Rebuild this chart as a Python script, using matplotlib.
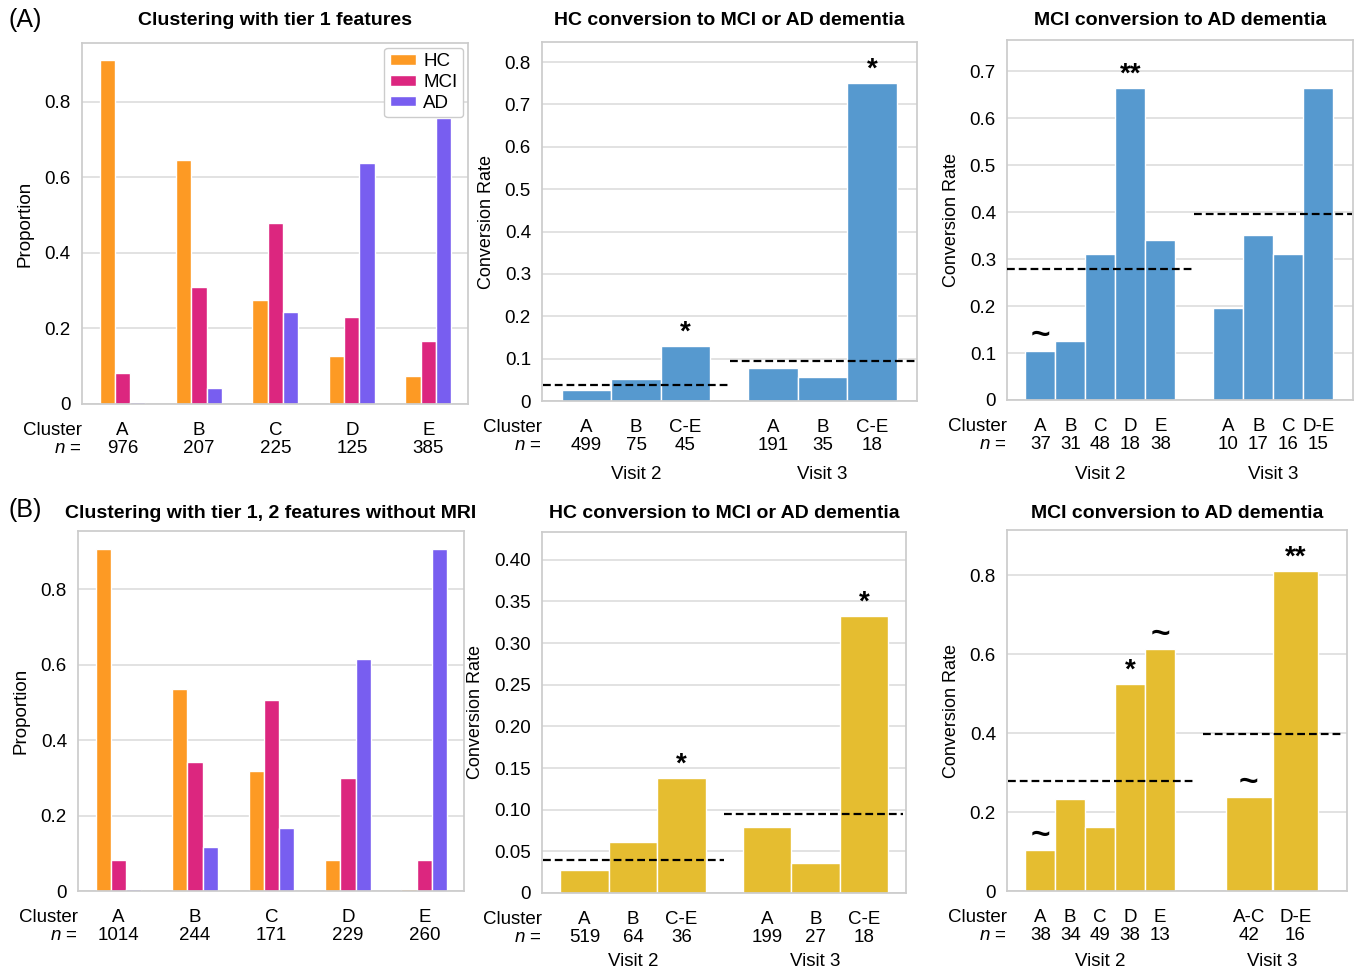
import numpy as np
import matplotlib
matplotlib.use("Agg")
import matplotlib.pyplot as plt
import matplotlib.transforms as mtransforms
from matplotlib.ticker import FuncFormatter, MultipleLocator

# ---- (A) clustering with tier 1 features ----
clusters = ["A", "B", "C", "D", "E"]
groups = ["HC", "MCI", "AD"]

t1_n = [976, 207, 225, 125, 385]
t1_hc = [0.910, 0.646, 0.274, 0.126, 0.074]
t1_mci = [0.081, 0.309, 0.479, 0.231, 0.167]
t1_ad = [0.005, 0.042, 0.243, 0.638, 0.756]

t1_hc_v2_labels = ["A", "B", "C-E"]
t1_hc_v2_n = [499, 75, 45]
t1_hc_v2_rate = [0.026, 0.051, 0.131]
t1_hc_v2_sig = ["", "", "*"]
t1_hc_v2_overall = 0.038
t1_hc_v3_labels = ["A", "B", "C-E"]
t1_hc_v3_n = [191, 35, 18]
t1_hc_v3_rate = [0.077, 0.056, 0.750]
t1_hc_v3_sig = ["", "", "*"]
t1_hc_v3_overall = 0.094

t1_mci_v2_labels = ["A", "B", "C", "D", "E"]
t1_mci_v2_n = [37, 31, 48, 18, 38]
t1_mci_v2_rate = [0.105, 0.126, 0.310, 0.665, 0.340]
t1_mci_v2_sig = ["~", "", "", "**", ""]
t1_mci_v2_overall = 0.278
t1_mci_v3_labels = ["A", "B", "C", "D-E"]
t1_mci_v3_n = [10, 17, 16, 15]
t1_mci_v3_rate = [0.197, 0.351, 0.310, 0.665]
t1_mci_v3_sig = ["", "", "", ""]
t1_mci_v3_overall = 0.397

# ---- (B) clustering with tier 1, 2 features without MRI ----
t2_n = [1014, 244, 171, 229, 260]
t2_hc = [0.908, 0.535, 0.319, 0.081, 0.006]
t2_mci = [0.082, 0.342, 0.507, 0.300, 0.083]
t2_ad = [0.005, 0.117, 0.168, 0.615, 0.906]

t2_hc_v2_labels = ["A", "B", "C-E"]
t2_hc_v2_n = [519, 64, 36]
t2_hc_v2_rate = [0.028, 0.061, 0.138]
t2_hc_v2_sig = ["", "", "*"]
t2_hc_v2_overall = 0.039
t2_hc_v3_labels = ["A", "B", "C-E"]
t2_hc_v3_n = [199, 27, 18]
t2_hc_v3_rate = [0.079, 0.036, 0.332]
t2_hc_v3_sig = ["", "", "*"]
t2_hc_v3_overall = 0.095

t2_mci_v2_labels = ["A", "B", "C", "D", "E"]
t2_mci_v2_n = [38, 34, 49, 38, 13]
t2_mci_v2_rate = [0.103, 0.232, 0.161, 0.525, 0.613]
t2_mci_v2_sig = ["~", "", "", "*", "~"]
t2_mci_v2_overall = 0.279
t2_mci_v3_labels = ["A-C", "D-E"]
t2_mci_v3_n = [42, 16]
t2_mci_v3_rate = [0.237, 0.811]
t2_mci_v3_sig = ["~", "**"]
t2_mci_v3_overall = 0.398

group_colors = ["#fd9a24", "#dc267f", "#785ef0"]
blue = "#5699cf"
yellow = "#e5bd30"

plt.rcParams.update({
    "font.family": ["Liberation Sans", "DejaVu Sans"],
    "font.size": 13.5,
    "mathtext.fontset": "custom",
    "mathtext.it": "Liberation Sans:italic",
    "mathtext.rm": "Liberation Sans",
    "axes.edgecolor": "#cccccc",
    "axes.linewidth": 1.25,
    "axes.grid": True,
    "axes.grid.axis": "y",
    "grid.color": "#dddddd",
    "grid.linewidth": 1.2,
    "axes.axisbelow": True,
    "xtick.major.size": 0,
    "ytick.major.size": 0,
    "xtick.major.pad": 13,
    "ytick.major.pad": 8,
})

TICK_PAD = 13
LINESPACING = 1.1


def y_format(decimals):
    return FuncFormatter(lambda v, p: "0" if abs(v) < 1e-9 else f"{v:.{decimals}f}")


def panel_title(ax, text, fig_y):
    # titles of one row share a baseline height in figure coordinates
    tr = mtransforms.blended_transform_factory(ax.transAxes, ax.figure.transFigure)
    ax.text(0.5, fig_y, text, transform=tr, ha="center", va="center",
            fontsize=14, fontweight="bold")


def cluster_header(ax):
    ax.annotate("Cluster\n$n$ =", xy=(0, 0), xycoords="axes fraction",
                xytext=(0, -TICK_PAD), textcoords="offset points",
                ha="right", va="top", multialignment="right",
                linespacing=LINESPACING)


def proportion_panel(ax, n, hc, mci, ad, title, title_y, legend=False):
    x = np.arange(len(clusters))
    for off, vals, col, lab in zip((-0.2, 0.0, 0.2), (hc, mci, ad), group_colors, groups):
        ax.bar(x + off, vals, 0.2, color=col, edgecolor="white", linewidth=1, label=lab)
    ax.set_xticks(x)
    ax.set_xticklabels([f"{c}\n{k}" for c, k in zip(clusters, n)],
                       linespacing=LINESPACING)
    ax.set_xlim(-0.53, 4.52)
    ax.set_ylim(0, 0.955)
    ax.yaxis.set_major_locator(MultipleLocator(0.2))
    ax.yaxis.set_major_formatter(y_format(1))
    ax.set_ylabel("Proportion", fontsize=13.5, labelpad=8)
    panel_title(ax, title, title_y)
    cluster_header(ax)
    if legend:
        ax.legend(loc="upper right", handlelength=1.4, handleheight=0.5,
                  handletextpad=0.4, labelspacing=0.2, borderpad=0.3,
                  borderaxespad=0.25, framealpha=1, edgecolor="#cccccc",
                  fontsize=13.5)


def conversion_panel(ax, visits, color, title, title_y, xlim, ylim, step, decimals, visit_y):
    ticks, ticklabels = [], []
    blend = mtransforms.blended_transform_factory(ax.transData, ax.transAxes)
    for name, pos, width, labels, n, rate, sig, overall, span in visits:
        ax.bar(pos, rate, width, color=color, edgecolor="white", linewidth=1)
        ax.plot(span, [overall, overall], color="black", lw=1.6,
                linestyle=(0, (3.5, 1.8)), zorder=3)
        for p, r, s in zip(pos, rate, sig):
            if s == "~":
                ax.annotate(s, (p, r), xytext=(0, 4.5), textcoords="offset points",
                            ha="center", va="baseline", fontsize=24, fontweight="bold")
            elif s:
                ax.annotate(s, (p, r), xytext=(0, 4.5), textcoords="offset points",
                            ha="center", va="baseline", fontsize=20, fontweight="bold")
        ticks += list(pos)
        ticklabels += [f"{c}\n{k}" for c, k in zip(labels, n)]
        ax.text(np.mean(pos), visit_y, name, transform=blend, ha="center", va="center")
    ax.set_xticks(ticks)
    ax.set_xticklabels(ticklabels, linespacing=LINESPACING)
    ax.set_xlim(*xlim)
    ax.set_ylim(0, ylim)
    ax.yaxis.set_major_locator(MultipleLocator(step))
    ax.yaxis.set_major_formatter(y_format(decimals))
    ax.set_ylabel("Conversion Rate", fontsize=13, labelpad=7)
    panel_title(ax, title, title_y)
    cluster_header(ax)


fig = plt.figure(figsize=(13.55, 9.72), dpi=100)

ax1 = fig.add_axes([0.0605, 0.5844, 0.2849, 0.3714])
ax2 = fig.add_axes([0.4000, 0.5874, 0.2768, 0.3693])
ax3 = fig.add_axes([0.7432, 0.5885, 0.2554, 0.3704])
ax4 = fig.add_axes([0.0576, 0.0833, 0.2849, 0.3704])
ax5 = fig.add_axes([0.4000, 0.0813, 0.2686, 0.3714])
ax6 = fig.add_axes([0.7432, 0.0833, 0.2509, 0.3714])

TOP_TITLE_Y = 0.979
BOTTOM_TITLE_Y = 0.472

proportion_panel(ax1, t1_n, t1_hc, t1_mci, t1_ad,
                 "Clustering with tier 1 features", TOP_TITLE_Y, legend=True)
proportion_panel(ax4, t2_n, t2_hc, t2_mci, t2_ad,
                 "Clustering with tier 1, 2 features without MRI", BOTTOM_TITLE_Y)

conversion_panel(ax2, [
    ("Visit 2", np.arange(3), 1.0, t1_hc_v2_labels, t1_hc_v2_n, t1_hc_v2_rate,
     t1_hc_v2_sig, t1_hc_v2_overall, (-0.88, 2.89)),
    ("Visit 3", 3.77 + np.arange(3), 1.0, t1_hc_v3_labels, t1_hc_v3_n, t1_hc_v3_rate,
     t1_hc_v3_sig, t1_hc_v3_overall, (2.89, 6.67)),
], blue, "HC conversion to MCI or AD dementia", TOP_TITLE_Y,
    (-0.9, 6.68), 0.847, 0.1, 1, -0.206)

conversion_panel(ax3, [
    ("Visit 2", np.arange(5), 1.0, t1_mci_v2_labels, t1_mci_v2_n, t1_mci_v2_rate,
     t1_mci_v2_sig, t1_mci_v2_overall, (-1.1, 5.11)),
    ("Visit 3", 6.26 + np.arange(4), 1.0, t1_mci_v3_labels, t1_mci_v3_n, t1_mci_v3_rate,
     t1_mci_v3_sig, t1_mci_v3_overall, (5.11, 10.39)),
], blue, "MCI conversion to AD dementia", TOP_TITLE_Y,
    (-1.11, 10.42), 0.767, 0.1, 1, -0.208)

conversion_panel(ax5, [
    ("Visit 2", np.arange(3), 1.0, t2_hc_v2_labels, t2_hc_v2_n, t2_hc_v2_rate,
     t2_hc_v2_sig, t2_hc_v2_overall, (-0.86, 2.88)),
    ("Visit 3", 3.76 + np.arange(3), 1.0, t2_hc_v3_labels, t2_hc_v3_n, t2_hc_v3_rate,
     t2_hc_v3_sig, t2_hc_v3_overall, (2.88, 6.56)),
], yellow, "HC conversion to MCI or AD dementia", BOTTOM_TITLE_Y,
    (-0.88, 6.63), 0.4333, 0.05, 2, -0.19)

conversion_panel(ax6, [
    ("Visit 2", np.arange(5), 1.0, t2_mci_v2_labels, t2_mci_v2_n, t2_mci_v2_rate,
     t2_mci_v2_sig, t2_mci_v2_overall, (-1.09, 5.11)),
    ("Visit 3", np.array([6.96, 8.52]), 1.52, t2_mci_v3_labels, t2_mci_v3_n, t2_mci_v3_rate,
     t2_mci_v3_sig, t2_mci_v3_overall, (5.44, 10.11)),
], yellow, "MCI conversion to AD dementia", BOTTOM_TITLE_Y,
    (-1.11, 10.24), 0.914, 0.2, 1, -0.196)

fig.text(0.006, 0.979, "(A)", fontsize=18, va="center", ha="left")
fig.text(0.006, 0.475, "(B)", fontsize=18, va="center", ha="left")

fig.savefig("out.png", dpi=100)
